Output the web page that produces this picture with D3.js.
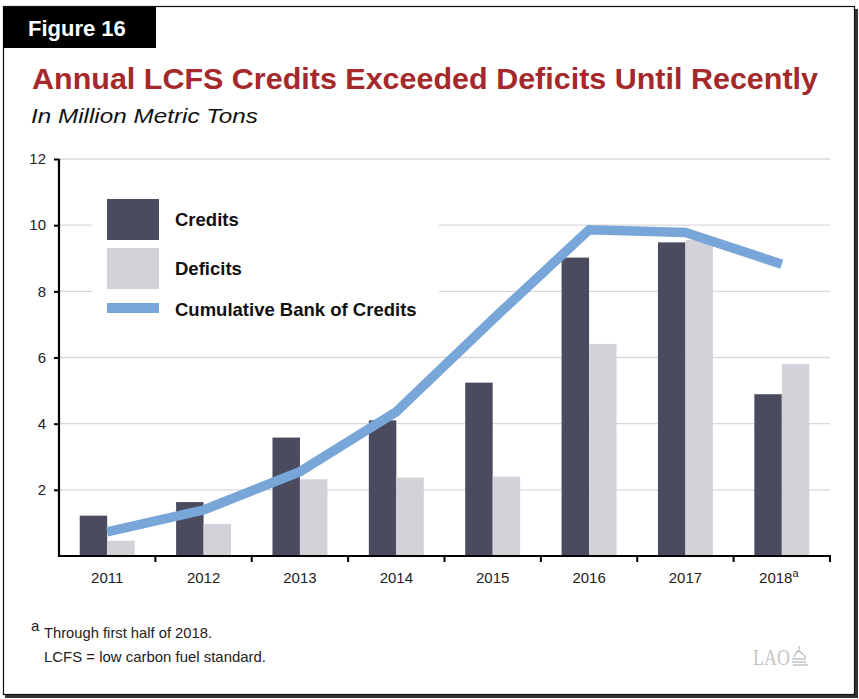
<!DOCTYPE html>
<html>
<head>
<meta charset="utf-8">
<script src="https://cdn.jsdelivr.net/npm/d3@7"></script>
<style>
  html, body { margin: 0; padding: 0; background: #fff; }
  svg { display: block; font-family: "Liberation Sans", Arial, Helvetica, sans-serif; }
</style>
</head>
<body>
<svg id="chart" width="859" height="699"></svg>
<script>
// Annual LCFS credits and deficits (million metric tons) with the cumulative bank
const years = ["2011", "2012", "2013", "2014", "2015", "2016", "2017", "2018"];
const credits = [1.22, 1.63, 3.58, 4.10, 5.24, 9.02, 9.48, 4.89];
const deficits = [0.46, 0.97, 2.32, 2.37, 2.40, 6.41, 9.55, 5.80];
const bank = [0.73, 1.39, 2.55, 4.36, 7.15, 9.86, 9.78, 8.82];
const yTicks = [2, 4, 6, 8, 10, 12];
const seriesNames = ["Credits", "Deficits", "Cumulative Bank of Credits"];

const colors = { credits: "#4a4b5f", deficits: "#d3d2d8", bank: "#79a6d8", title: "#a5282a" };

const svg = d3.select("#chart");

// Outer frame with drop shadow
svg.append("rect").attr("x", 5).attr("y", 9).attr("width", 853).attr("height", 689).attr("fill", "#333");
svg.append("rect").attr("x", 3.5).attr("y", 6.5).attr("width", 851).attr("height", 688)
  .attr("fill", "#fff").attr("stroke", "#111").attr("stroke-width", 1.2);

// Figure tab
svg.append("rect").attr("x", 3).attr("y", 7).attr("width", 153).attr("height", 41).attr("fill", "#000");
svg.append("text").attr("x", 28).attr("y", 36).attr("fill", "#fff")
  .attr("font-size", 22).attr("font-weight", "bold").text("Figure 16");

// Title and subtitle
svg.append("text").attr("x", 32).attr("y", 89).attr("fill", colors.title)
  .attr("font-size", 29.5).attr("font-weight", "bold")
  .attr("textLength", 786).attr("lengthAdjust", "spacingAndGlyphs")
  .text("Annual LCFS Credits Exceeded Deficits Until Recently");
svg.append("text").attr("x", 31).attr("y", 123).attr("fill", "#111")
  .attr("font-size", 21).attr("font-style", "italic")
  .attr("textLength", 227).attr("lengthAdjust", "spacingAndGlyphs")
  .text("In Million Metric Tons");

// Scales
const x0 = 59, x1 = 830, yBase = 556, yTop = 159;
const x = d3.scaleBand().domain(years).range([x0, x1]).paddingInner(0.43).paddingOuter(0.215);
const xSub = d3.scaleBand().domain(["credits", "deficits"]).range([0, x.bandwidth()]);
const y = d3.scaleLinear().domain([0, 12]).range([yBase, yTop]);

// Gridlines
svg.append("g").selectAll("line").data(yTicks).join("line")
  .attr("x1", x0).attr("x2", x1)
  .attr("y1", d => y(d)).attr("y2", d => y(d))
  .attr("stroke", "#d9d9d9").attr("stroke-width", 1.3);

// Legend background box that hides the gridlines behind it
svg.append("rect").attr("x", 92).attr("y", 185).attr("width", 347).attr("height", 140).attr("fill", "#fff");

// Bars
const groups = svg.append("g").selectAll("g").data(years).join("g")
  .attr("transform", d => `translate(${x(d)},0)`);
groups.append("rect")
  .attr("x", xSub("credits")).attr("width", xSub.bandwidth())
  .attr("y", (d, i) => y(credits[i])).attr("height", (d, i) => yBase - y(credits[i]))
  .attr("fill", colors.credits);
groups.append("rect")
  .attr("x", xSub("deficits")).attr("width", xSub.bandwidth())
  .attr("y", (d, i) => y(deficits[i])).attr("height", (d, i) => yBase - y(deficits[i]))
  .attr("fill", colors.deficits);

// Cumulative bank line
const line = d3.line()
  .x((d, i) => x(years[i]) + x.bandwidth() / 2)
  .y(d => y(d));
svg.append("path").datum(bank).attr("d", line)
  .attr("fill", "none").attr("stroke", colors.bank).attr("stroke-width", 9.5)
  .attr("stroke-linejoin", "miter").attr("stroke-linecap", "butt");

// Y axis
const yAxis = svg.append("g").attr("transform", `translate(${x0},0)`)
  .call(d3.axisLeft(y).tickValues(yTicks).tickSize(5).tickPadding(8));
yAxis.attr("font-family", null).attr("font-size", null);
yAxis.select(".domain").remove();
yAxis.selectAll(".tick line").attr("stroke", "#000").attr("stroke-width", 2);
yAxis.selectAll(".tick text").attr("font-size", 15).attr("fill", "#222");
svg.append("line").attr("x1", x0).attr("x2", x0).attr("y1", yTop).attr("y2", yBase + 1)
  .attr("stroke", "#000").attr("stroke-width", 2.2);

// X axis: baseline with ticks at category boundaries
svg.append("line").attr("x1", x0 - 1).attr("x2", x1 + 1).attr("y1", yBase).attr("y2", yBase)
  .attr("stroke", "#000").attr("stroke-width", 2.2);
const step = x.step();
svg.append("g").selectAll("line").data(years).join("line")
  .attr("x1", d => x(d) + x.bandwidth() / 2 + step / 2)
  .attr("x2", d => x(d) + x.bandwidth() / 2 + step / 2)
  .attr("y1", yBase).attr("y2", yBase + 6)
  .attr("stroke", "#000").attr("stroke-width", 2);

const xLabels = svg.append("g").selectAll("text").data(years).join("text")
  .attr("x", d => x(d) + x.bandwidth() / 2)
  .attr("y", 583).attr("text-anchor", "middle")
  .attr("font-size", 15).attr("fill", "#222");
xLabels.text(d => d);
xLabels.filter(d => d === "2018").each(function () {
  const t = d3.select(this);
  t.attr("x", +t.attr("x") - 3);
  t.append("tspan").attr("font-size", 11).attr("dy", -6).text("a");
});

// Legend
const legend = svg.append("g");
legend.append("rect").attr("x", 107).attr("y", 199).attr("width", 52).attr("height", 41).attr("fill", colors.credits);
legend.append("rect").attr("x", 107).attr("y", 248).attr("width", 52).attr("height", 41).attr("fill", colors.deficits);
legend.append("rect").attr("x", 107).attr("y", 303).attr("width", 52).attr("height", 10).attr("fill", colors.bank);
const legendY = [226, 275, 316];
legend.selectAll("text").data(seriesNames).join("text")
  .attr("x", 175).attr("y", (d, i) => legendY[i])
  .attr("font-size", 18.5).attr("font-weight", "bold").attr("fill", "#111")
  .text(d => d);

// Footnotes
svg.append("text").attr("x", 31).attr("y", 631).attr("font-size", 15).attr("fill", "#222").text("a");
svg.append("text").attr("x", 44).attr("y", 638).attr("font-size", 15).attr("fill", "#222")
  .attr("textLength", 168).attr("lengthAdjust", "spacingAndGlyphs")
  .text("Through first half of 2018.");
svg.append("text").attr("x", 44).attr("y", 662).attr("font-size", 15).attr("fill", "#222")
  .attr("textLength", 222).attr("lengthAdjust", "spacingAndGlyphs")
  .text("LCFS = low carbon fuel standard.");

// LAO mark
const logo = svg.append("g").attr("fill", "#c4c4c4").attr("stroke", "#c4c4c4");
logo.append("text").attr("x", 753).attr("y", 665).attr("font-size", 23)
  .style("font-family", "'Liberation Serif', 'Times New Roman', serif").attr("stroke", "none")
  .attr("textLength", 37).attr("lengthAdjust", "spacingAndGlyphs").text("LAO");
logo.append("path").attr("fill", "none").attr("stroke-width", 1.4)
  .attr("d", "M794,657 Q798,647 803,655 M796,652 L800,650 M799,646 L799,649 M792,659 L806,659 M792,662 L806,662 M793,665 L808,665 M804,655 L806,658");
</script>
</body>
</html>
